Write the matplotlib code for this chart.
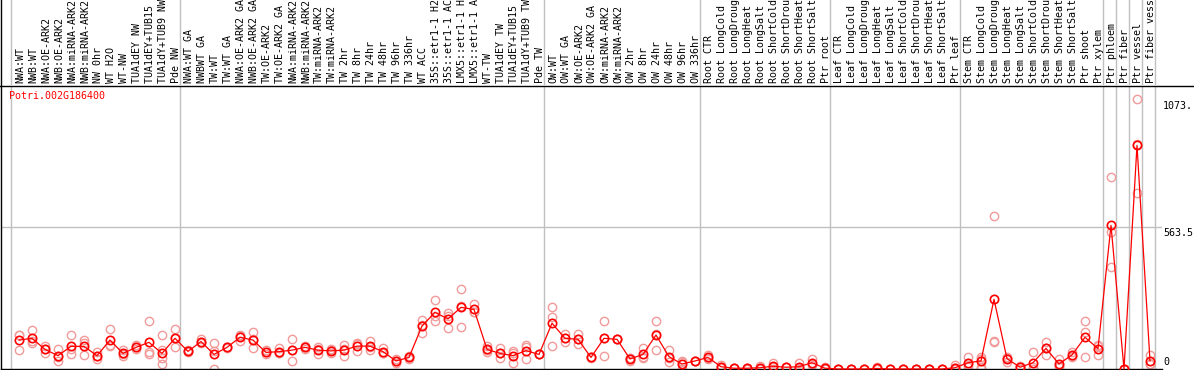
import matplotlib
matplotlib.use('Agg')
import matplotlib.pyplot as plt
from matplotlib.lines import Line2D
import numpy as np

gene = 'Potri.002G186400'

labels = [
    'NWA:WT', 'NWB:WT', 'NWA:OE-ARK2', 'NWB:OE-ARK2', 'NWA:miRNA-ARK2', 'NWB:miRNA-ARK2',
    'NW 0hr', 'WT H2O', 'WT-NW', 'TUA1dEY NW', 'TUA1dEY+TUB15 NW', 'TUA1dY+TUB9 NW', 'Pde NW',
    'NWA:WT GA', 'NWBWT GA', 'TW:WT', 'TW:WT GA', 'NWA:OE-ARK2 GA', 'NWB:OE-ARK2 GA',
    'TW:OE-ARK2', 'TW:OE-ARK2 GA', 'NWA:miRNA-ARK2', 'NWB:miRNA-ARK2', 'TW:miRNA-ARK2',
    'TW:miRNA-ARK2', 'TW 2hr', 'TW 8hr', 'TW 24hr', 'TW 48hr', 'TW 96hr', 'TW 336hr', 'WT ACC',
    '35S::etr1-1 H2O', '35S::etr1-1 ACC', 'LMX5::etr1-1 H2O', 'LMX5::etr1-1 ACC', 'WT-TW',
    'TUA1dEY TW', 'TUA1dEY+TUB15 TW', 'TUA1dY+TUB9 TW', 'Pde TW',
    'OW:WT', 'OW:WT GA', 'OW:OE-ARK2', 'OW:OE-ARK2 GA', 'OW:miRNA-ARK2', 'OW:miRNA-ARK2',
    'OW 2hr', 'OW 8hr', 'OW 24hr', 'OW 48hr', 'OW 96hr', 'OW 336hr',
    'Root CTR', 'Root LongCold', 'Root LongDrought', 'Root LongHeat', 'Root LongSalt',
    'Root ShortCold', 'Root ShortDrought', 'Root ShortHeat', 'Root ShortSalt', 'Ptr root',
    'Leaf CTR', 'Leaf LongCold', 'Leaf LongDrought', 'Leaf LongHeat', 'Leaf LongSalt',
    'Leaf ShortCold', 'Leaf ShortDrought', 'Leaf ShortHeat', 'Leaf ShortSalt', 'Ptr leaf',
    'Stem CTR', 'Stem LongCold', 'Stem LongDrought', 'Stem LongHeat', 'Stem LongSalt',
    'Stem ShortCold', 'Stem ShortDrought', 'Stem ShortHeat', 'Stem ShortSalt', 'Ptr shoot',
    'Ptr xylem', 'Ptr phloem', 'Ptr fiber', 'Ptr vessel', 'Ptr fiber vessel',
]

# first sample index of every group (the last entry closes the chart)
group_starts = [0, 13, 41, 53, 63, 73, 84, 85, 86, 87, 88]

mean_expr = [
    115, 122, 78, 53, 90, 90, 53, 115, 62, 86, 106, 62, 122,
    70, 109, 58, 86, 126, 115, 66, 69, 75, 86, 75, 72, 75, 91, 91, 69, 32,
    46, 171, 225, 199, 245, 237, 78, 62, 53, 73, 58,
    182, 122, 118, 46, 122, 118, 40, 58, 135, 49, 20, 32,
    46, 9, 3, 3, 5, 11, 7, 9, 25, 3,
    0, 0, 0, 2, 0, 0, 0, 0, 0, 5,
    25, 32, 277, 41, 7, 25, 82, 20, 56, 126, 81,
    571, 0, 889, 32,
]

replicates = [
    [135, 135, 75], [155, 110, 102], [91, 78, 65], [78, 48, 33], [135, 78, 58],
    [115, 102, 55], [69, 50, 39], [159, 95, 91], [75, 60, 52], [78, 95, 86],
    [191, 68, 60], [135, 75, 42, 20], [159, 122, 86],
    [75, 70, 66], [118, 108, 102], [102, 72, 0], [88, 86, 84], [135, 130, 112],
    [146, 118, 82], [75, 66, 58], [82, 62, 64], [118, 75, 32], [86, 92, 80],
    [88, 80, 58], [78, 76, 62], [95, 78, 53], [102, 98, 73], [112, 86, 75],
    [82, 64, 62], [39, 32, 25],
    [39, 49, 50], [195, 174, 144], [274, 210, 192], [224, 212, 162], [317, 252, 166],
    [258, 228, 226], [91, 75, 69], [82, 62, 42], [72, 62, 25], [95, 39, 86], [58, 58, 58],
    [245, 208, 91], [138, 122, 106], [138, 118, 99], [49, 46, 42], [191, 122, 52],
    [118, 118, 118], [42, 45, 32], [84, 48, 42], [191, 140, 75], [75, 44, 29],
    [29, 30, 0], [32, 32, 32],
    [55, 44, 39], [16, 7, 4], [3, 3, 3], [5, 3, 1], [13, 3, 0], [25, 9, 0],
    [7, 7, 7], [25, 2, 0], [39, 20, 16], [7, 2, 0],
    [0, 0, 0], [0, 0, 0], [0, 0, 0], [9, 0, 0], [0, 0, 0], [0, 0, 0],
    [0, 0, 0], [0, 0, 0], [0, 0, 0], [16, 3, 0],
    [49, 16, 9], [49, 38, 9, 0], [608, 112, 106], [49, 45, 29], [9, 12, 0],
    [69, 7, 0], [109, 82, 56], [39, 12, 9], [66, 53, 49], [191, 146, 49], [91, 96, 56],
    [764, 546, 404], [0, 0, 0], [1073.3, 893, 700], [56, 20, 20],
]

W, H = 1194, 370
mono = 'DejaVu Sans Mono'
fs = 7.2
red = '#ff0000'
pink = '#f19a9a'
grey = '#c0c0c0'

x = np.arange(len(labels))
top_val = max(max(r) for r in replicates)
ymax = top_val * 1.05

fig = plt.figure(figsize=(W / 100, H / 100), dpi=100)
ax = fig.add_axes([1 / W, 1 / H, 1161 / W, 283.5 / H])
hx = fig.add_axes([1 / W, 285 / H, 1161 / W, 85 / H], sharex=ax)

ax.set_xlim((1 - 19) / 13, (1162 - 19) / 13)
ax.set_ylim(0, ymax)

for a in (ax, hx):
    for side in ('top', 'right', 'bottom'):
        a.spines[side].set_visible(False)
    a.spines['left'].set_linewidth(1.0)
    a.tick_params(left=False, bottom=False, labelleft=False, labelbottom=False)
    for k in group_starts:
        a.axvline(k - 0.62, color=grey, lw=1.0, zorder=0)
ax.spines['bottom'].set_visible(True)
ax.spines['bottom'].set_linewidth(1.0)
hx.set_ylim(0, 1)

ax.axhline(ymax / 2, color=grey, lw=1.0, zorder=0)

# replicate values
for i, reps in enumerate(replicates):
    ax.plot([i] * len(reps), reps, linestyle='none', marker='o', ms=6,
            mfc='none', mec=pink, mew=1.0, clip_on=False, zorder=2)

# mean line
ax.plot(x, mean_expr, color=red, lw=0.9, marker='o', ms=6, mfc='none',
        mec=red, mew=1.2, clip_on=False, zorder=3)

# sample labels in the header
for i, lab in enumerate(labels):
    hx.annotate(lab, xy=(i, 0), xytext=(1, 2), textcoords='offset pixels',
                rotation=90, ha='center', va='bottom', family=mono, fontsize=fs,
                annotation_clip=False)

fig.add_artist(Line2D([0, 1], [284.5 / H, 284.5 / H], transform=fig.transFigure,
                      color='black', lw=1.0))

ax.annotate(gene, xy=(0, 1), xycoords='axes fraction', xytext=(8, -5),
            textcoords='offset pixels', ha='left', va='top', color=red,
            family=mono, fontsize=fs)

# value labels on the right (fixed width of five characters)
for val, dy, va in [(top_val, -2, 'top'), (ymax / 2, -1, 'top'), (0, 2, 'bottom')]:
    txt = ('%.1f' % val)[:5] if val else '0'
    ax.annotate(txt, xy=(1, val), xycoords=('axes fraction', 'data'),
                xytext=(1, dy), textcoords='offset pixels', ha='left', va=va,
                family=mono, fontsize=fs, annotation_clip=False)

fig.savefig('out.png', dpi=100)
